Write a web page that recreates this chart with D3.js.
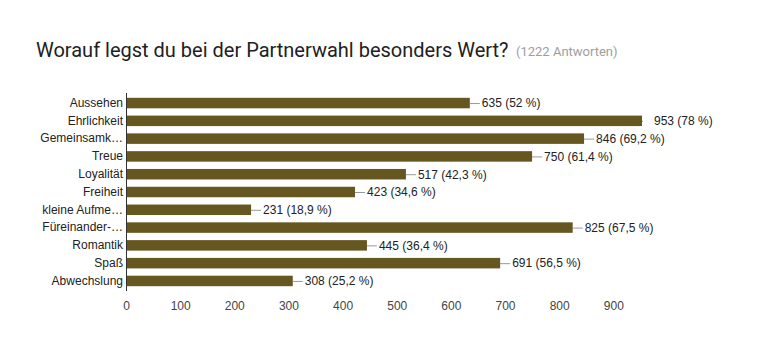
<!DOCTYPE html>
<html><head><meta charset="utf-8">
<script src="https://cdn.jsdelivr.net/npm/d3@7"></script>
<style>body{margin:0;background:#fff;} svg{display:block;}</style>
</head><body>
<svg id="c" width="758" height="364"></svg>
<script>
const categories = ["Aussehen","Ehrlichkeit","Gemeinsamk…","Treue","Loyalität","Freiheit","kleine Aufme…","Füreinander-…","Romantik","Spaß","Abwechslung"];
const counts = [635, 953, 846, 750, 517, 423, 231, 825, 445, 691, 308];
const percents = [52, 78, 69.2, 61.4, 42.3, 34.6, 18.9, 67.5, 36.4, 56.5, 25.2];
const tickValues = [0,100,200,300,400,500,600,700,800,900];
const titleText = "Worauf legst du bei der Partnerwahl besonders Wert?";
const subtitleText = "(1222 Antworten)";

const svg = d3.select("#c");
const areaLeft = 126, areaRight = 642, areaTop = 93, areaBottom = 291;
const x = d3.scaleLinear().domain([0, d3.max(counts)]).range([areaLeft, areaRight]);
const y = d3.scaleBand().domain(categories).range([areaTop, areaBottom]).paddingInner(0.41).paddingOuter(0.27);
const barColor = "#665720";

svg.append("text").attr("x", 36).attr("y", 57)
  .attr("font-family", "Roboto").attr("font-size", 20).attr("fill", "#212121").text(titleText);
svg.append("text").attr("x", 516).attr("y", 56)
  .attr("font-family", "Roboto").attr("font-size", 13).attr("fill", "#9e9e9e").text(subtitleText);

svg.append("defs").append("clipPath").attr("id","ca")
  .append("rect").attr("x", areaLeft).attr("y", areaTop).attr("width", areaRight - areaLeft + 1).attr("height", areaBottom - areaTop);

const rows = categories.map((c, i) => ({c, v: counts[i], p: percents[i]}));

svg.append("g").attr("clip-path","url(#ca)").selectAll("line").data(rows).join("line")
  .attr("x1", d => x(d.v)).attr("x2", d => x(d.v) + 10)
  .attr("y1", d => y(d.c) + y.bandwidth()/2 + 0.5).attr("y2", d => y(d.c) + y.bandwidth()/2 + 0.5)
  .attr("stroke", "#999").attr("stroke-width", 1);

svg.append("g").selectAll("rect").data(rows).join("rect")
  .attr("x", x(0)).attr("y", d => y(d.c)).attr("width", d => x(d.v) - x(0)).attr("height", y.bandwidth())
  .attr("fill", barColor);

const fmt = p => String(p).replace(".", ",");
svg.append("g").selectAll("text").data(rows).join("text")
  .attr("x", d => x(d.v) + 12).attr("y", d => y(d.c) + y.bandwidth()/2)
  .attr("dy", "0.36em")
  .attr("font-family", "Arial, 'Liberation Sans'").attr("font-size", 12).attr("fill", "#222")
  .text(d => `${d.v} (${fmt(d.p)} %)`);

const yAxis = svg.append("g").attr("transform", `translate(${areaLeft},0)`)
  .call(d3.axisLeft(y).tickSize(0).tickPadding(3));
yAxis.select(".domain").remove();
yAxis.selectAll("text").attr("font-family", "Arial, 'Liberation Sans'").attr("font-size", 12).attr("fill", "#222");

svg.append("line").attr("x1", areaLeft + 0.5).attr("x2", areaLeft + 0.5).attr("y1", areaTop).attr("y2", areaBottom)
  .attr("stroke", "#333").attr("stroke-width", 1);

const xAxis = svg.append("g").attr("transform", `translate(0,${areaBottom})`)
  .call(d3.axisBottom(x).tickValues(tickValues).tickSize(0).tickPadding(10).tickFormat(d3.format("d")));
xAxis.select(".domain").remove();
xAxis.selectAll("text").attr("font-family", "Arial, 'Liberation Sans'").attr("font-size", 12).attr("fill", "#444");
</script>
</body></html>
